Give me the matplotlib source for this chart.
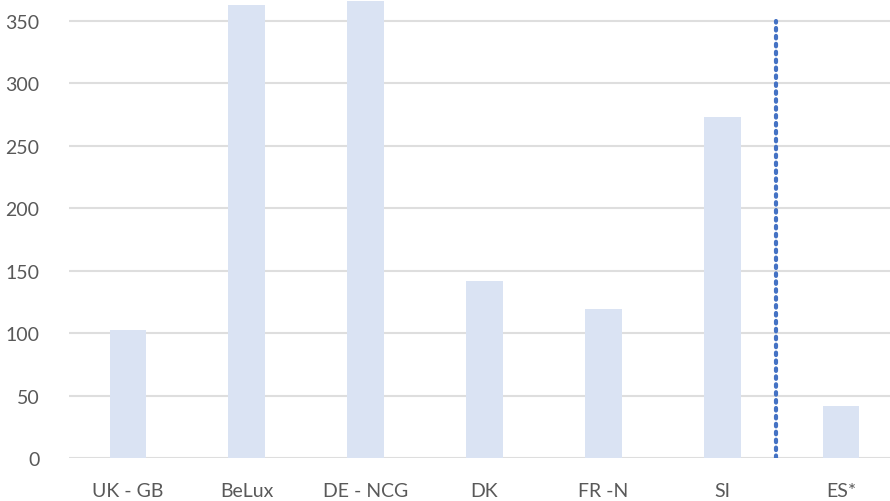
import matplotlib
matplotlib.use("Agg")
import matplotlib.pyplot as plt

# data
categories = ["UK - GB", "BeLux", "DE - NCG", "DK", "FR -N", "SI", "ES*"]
values = [102.5, 362.5, 366, 141.5, 119, 273, 41.5]
divider_x = 5.45  # dotted separator between SI and ES*
divider_top = 350

plt.rcParams['font.family'] = ['Lato', 'DejaVu Sans']

fig = plt.figure(figsize=(8.9, 5.02), dpi=100)
ax = fig.add_axes([68.5 / 890, 43 / 502, 832 / 890, 459 / 502])

x = range(len(categories))
ax.bar(x, values, width=0.31, color='#dae3f3', zorder=2)

# dotted vertical separator
ax.plot([divider_x, divider_x], [0, divider_top], linestyle=(0, (0.6, 1.3)),
        color='#4472c4', linewidth=3, solid_capstyle='round',
        dash_capstyle='round', zorder=3)

ax.set_xlim(-0.5, 6.5)
ax.set_ylim(0, 367.5)
ax.set_yticks(range(0, 351, 50))
ax.set_xticks(list(x))
ax.set_xticklabels(categories)

ax.grid(axis='y', color='#dedede', linewidth=1.5, zorder=0)
for s in ax.spines.values():
    s.set_visible(False)
ax.tick_params(axis='both', length=0, labelsize=14, labelcolor='#595959')
ax.tick_params(axis='y', pad=21)
ax.tick_params(axis='x', pad=17)

fig.savefig('out.png', dpi=100)
